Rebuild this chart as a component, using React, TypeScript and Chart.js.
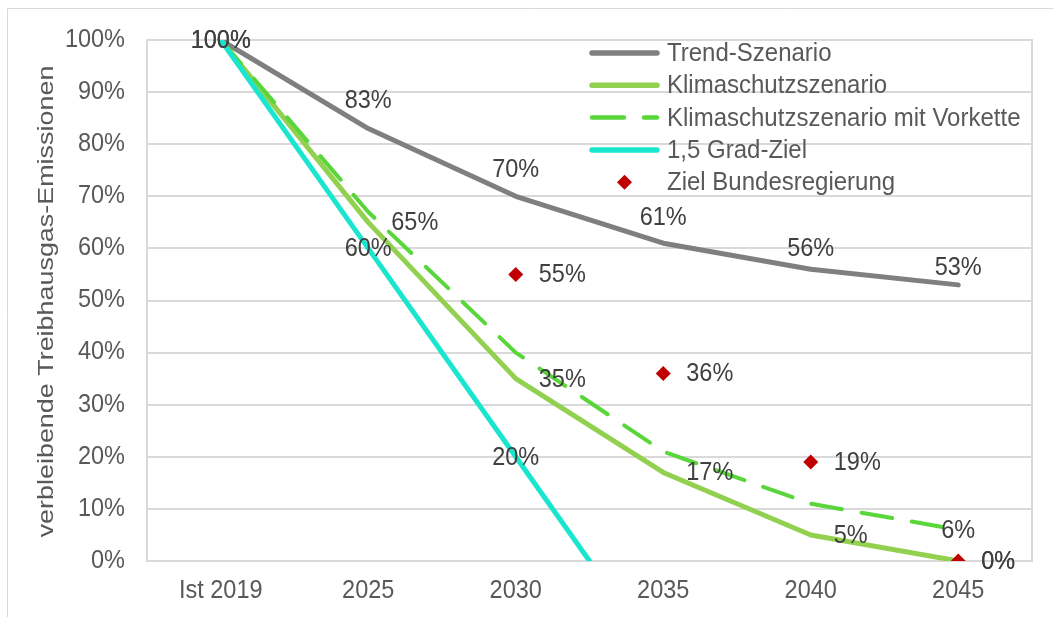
import { useEffect, useRef } from "react";
import { Chart, registerables } from "chart.js";

Chart.register(...registerables);

// ---- data ----
const categories = ["Ist 2019", "2025", "2030", "2035", "2040", "2045"];
const trendValues = [100, 83, 70, 61, 56, 53];
const klimaValues = [100, 65, 35, 17, 5, 0];
const vorketteValues = [100, 67, 40, 21, 11, 6];
const gradX = [0, 1, 2, 2.5];
const gradValues = [100, 60, 20, 0];
const zielX = [2, 3, 4, 5];
const zielValues = [55, 36, 19, 0];
const yTicks = [0, 10, 20, 30, 40, 50, 60, 70, 80, 90, 100];
const yTitle = "verbleibende Treibhausgas-Emissionen";

const seriesNames = [
  "Trend-Szenario",
  "Klimaschutzszenario",
  "Klimaschutzszenario mit Vorkette",
  "1,5 Grad-Ziel",
  "Ziel Bundesregierung",
];

// label placement per point
const trendLabelPos = ["none", "above", "above", "above", "above", "above"];
const trendLabelDy = [0, -27, -26, -25, -20, -17];
const klimaLabelPos = ["none", "right", "right", "right", "right", "right"];
const vorketteLabelPos = ["center", "none", "none", "none", "none", "center"];
const gradLabelPos = ["center", "center", "center", "none"];
const zielLabelPos = ["right", "right", "right", "right"];

const FONT = "'Liberation Sans', Arial, sans-serif";
const TEXT = "#595959";
const LABEL = "#404040";
const GRID = "#d9d9d9";

const COLORS = {
  trend: "#7f7f7f",
  klima: "#92d050",
  vorkette: "#58d63a",
  grad: "#1ae6d0",
  ziel: "#c00000",
};

function drawText(
  ctx: CanvasRenderingContext2D,
  text: string,
  x: number,
  y: number,
  size: number,
  align: CanvasTextAlign,
  color: string,
  sy = 1.06,
  rotate = 0,
  sx = 1
) {
  ctx.save();
  ctx.translate(x, y);
  if (rotate) ctx.rotate(rotate);
  ctx.scale(sx, sy);
  ctx.font = `${size}px ${FONT}`;
  ctx.textAlign = align;
  ctx.textBaseline = "middle";
  ctx.fillStyle = color;
  ctx.fillText(text, 0, 0);
  ctx.restore();
}

export default function App() {
  const ref = useRef<HTMLCanvasElement>(null);

  useEffect(() => {
    document.body.style.margin = "0";
    const canvas = ref.current!;

    const framePlugin = {
      id: "frame",
      beforeDraw(chart: any) {
        const ctx = chart.ctx;
        ctx.save();
        ctx.strokeStyle = GRID;
        ctx.lineWidth = 1;
        ctx.beginPath();
        ctx.moveTo(7.5, 617);
        ctx.lineTo(7.5, 8.5);
        ctx.lineTo(1053, 8.5);
        ctx.stroke();
        ctx.restore();
      },
      beforeDatasetsDraw(chart: any) {
        const { ctx, chartArea: a } = chart;
        ctx.save();
        ctx.strokeStyle = GRID;
        ctx.lineWidth = 2;
        ctx.strokeRect(a.left, a.top, a.right - a.left, a.bottom - a.top);
        ctx.restore();
      },
      afterDraw(chart: any) {
        const ctx = chart.ctx;
        const xs = chart.scales.x;
        const ys = chart.scales.y;
        const a = chart.chartArea;
        categories.forEach((c, i) => {
          drawText(ctx, c, xs.getPixelForValue(i), a.bottom + 30, 23.5, "center", TEXT);
        });
        yTicks.forEach((v) => {
          drawText(ctx, `${v}%`, a.left - 22, ys.getPixelForValue(v), 23.5, "right", TEXT);
        });
        drawText(
          ctx,
          yTitle,
          47,
          (a.top + a.bottom) / 2 + 1,
          23,
          "center",
          TEXT,
          0.92,
          -Math.PI / 2,
          1.17
        );
      },
    };

    const labelPlugin = {
      id: "labels",
      afterDatasetsDraw(chart: any) {
        const ctx = chart.ctx;
        const specs: any[] = [
          { pos: trendLabelPos, dy: trendLabelDy },
          { pos: klimaLabelPos },
          { pos: vorketteLabelPos },
          { pos: gradLabelPos },
          { pos: zielLabelPos },
        ];
        chart.data.datasets.forEach((ds: any, di: number) => {
          const meta = chart.getDatasetMeta(di);
          const spec = specs[di];
          meta.data.forEach((el: any, i: number) => {
            const p = spec.pos[i];
            if (!p || p === "none") return;
            const v = ds.data[i].y;
            const txt = `${v}%`;
            if (p === "above") {
              drawText(ctx, txt, el.x, el.y + (spec.dy ? spec.dy[i] : -24), 23.5, "center", LABEL);
            } else if (p === "right") {
              drawText(ctx, txt, el.x + 23, el.y + 1, 23.5, "left", LABEL);
            } else {
              drawText(ctx, txt, el.x, el.y + 1, 23.5, "center", LABEL);
            }
          });
        });
      },
    };

    const legendPlugin = {
      id: "customLegend",
      afterDraw(chart: any) {
        const ctx = chart.ctx;
        const a = chart.chartArea;
        const x0 = a.right - 443;
        const x1 = a.right - 372;
        const tx = a.right - 365;
        const y0 = a.top + 13;
        const gap = 32.3;
        ctx.save();
        chart.data.datasets.forEach((ds: any, i: number) => {
          const y = y0 + i * gap;
          if (ds.showLine === false) {
            const cx = (x0 + x1) / 2;
            const r = 7.5;
            ctx.fillStyle = ds.pointBackgroundColor;
            ctx.beginPath();
            ctx.moveTo(cx, y - r);
            ctx.lineTo(cx + r, y);
            ctx.lineTo(cx, y + r);
            ctx.lineTo(cx - r, y);
            ctx.closePath();
            ctx.fill();
          } else {
            ctx.strokeStyle = ds.borderColor;
            ctx.lineWidth = ds.borderWidth + 0.5;
            ctx.lineCap = "round";
            ctx.setLineDash(ds.borderDash && ds.borderDash.length ? [32, 20] : []);
            ctx.beginPath();
            ctx.moveTo(x0 + 3, y);
            ctx.lineTo(x1 - 3, y);
            ctx.stroke();
            ctx.setLineDash([]);
          }
          drawText(ctx, ds.label, tx, y + 1, 24, "left", TEXT, 1.05);
        });
        ctx.restore();
      },
    };

    const toPts = (xs: number[], ys: number[]) => ys.map((y, i) => ({ x: xs[i], y }));
    const catX = categories.map((_, i) => i);

    const lineBase = {
      pointRadius: 0,
      pointHoverRadius: 0,
      borderCapStyle: "round",
      borderJoinStyle: "round",
      tension: 0,
      fill: false,
    };

    const chart = new Chart(canvas, {
      type: "line",
      data: {
        datasets: [
          {
            ...lineBase,
            label: seriesNames[0],
            data: toPts(catX, trendValues),
            borderColor: COLORS.trend,
            borderWidth: 5,
            order: 5,
          },
          {
            ...lineBase,
            label: seriesNames[1],
            data: toPts(catX, klimaValues),
            borderColor: COLORS.klima,
            borderWidth: 5,
            order: 4,
          },
          {
            ...lineBase,
            label: seriesNames[2],
            data: toPts(catX, vorketteValues),
            borderColor: COLORS.vorkette,
            borderWidth: 4,
            borderDash: [31, 20],
            order: 3,
          },
          {
            ...lineBase,
            label: seriesNames[3],
            data: toPts(gradX, gradValues),
            borderColor: COLORS.grad,
            borderWidth: 5,
            order: 2,
          },
          {
            label: seriesNames[4],
            data: toPts(zielX, zielValues),
            showLine: false,
            pointStyle: "rectRot",
            pointRadius: 7.5,
            pointHoverRadius: 7.5,
            pointBackgroundColor: COLORS.ziel,
            pointBorderColor: COLORS.ziel,
            pointBorderWidth: 0,
            borderColor: COLORS.ziel,
            order: 1,
          },
        ] as any,
      },
      options: {
        animation: false,
        responsive: false,
        layout: { padding: { left: 0, right: 21, top: 40, bottom: 0 } },
        scales: {
          x: {
            type: "linear",
            min: -0.5,
            max: 5.5,
            afterBuildTicks: (s: any) => {
              s.ticks = categories.map((_, i) => ({ value: i }));
            },
            afterFit: (s: any) => {
              s.height = 56;
            },
            ticks: { display: false },
            grid: { display: false, drawTicks: false },
            border: { display: false },
          },
          y: {
            min: 0,
            max: 100,
            afterBuildTicks: (s: any) => {
              s.ticks = yTicks.map((v) => ({ value: v }));
            },
            afterFit: (s: any) => {
              s.width = 147;
            },
            ticks: { display: false },
            grid: { color: GRID, lineWidth: 2, drawTicks: false },
            border: { display: false },
          },
        },
        plugins: {
          legend: { display: false },
          tooltip: { enabled: false },
        },
      } as any,
      plugins: [framePlugin, labelPlugin, legendPlugin],
    });

    return () => chart.destroy();
  }, []);

  return (
    <canvas
      ref={ref}
      width={1053}
      height={617}
      style={{ display: "block", width: 1053, height: 617 }}
    />
  );
}
